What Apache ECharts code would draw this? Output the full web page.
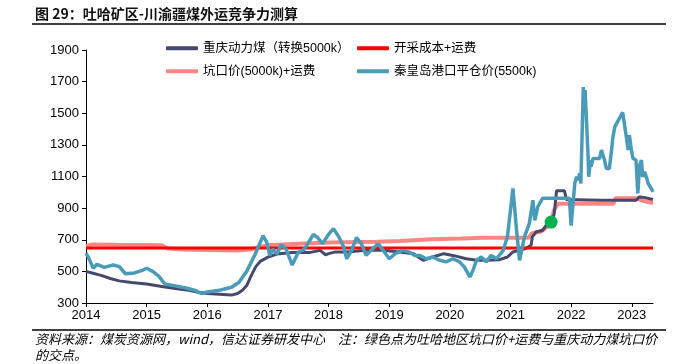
<!DOCTYPE html>
<html>
<head>
<meta charset="utf-8">
<script src="https://cdn.jsdelivr.net/npm/echarts@6/dist/echarts.min.js"></script>
<style>
  html, body { margin: 0; padding: 0; background: #fff; }
  #chart { width: 688px; height: 364px; }
</style>
</head>
<body>
<div id="chart"></div>
<script>
var yearTicks = [2014, 2015, 2016, 2017, 2018, 2019, 2020, 2021, 2022, 2023];

// 重庆动力煤（转换5000k）
var cqCoal = [[2014.0,500],[2014.1,490],[2014.25,475],[2014.4,455],[2014.55,440],[2014.75,430],[2015.0,420],[2015.25,405],[2015.5,390],[2015.7,380],[2015.85,368],[2016.0,360],[2016.2,355],[2016.4,350],[2016.5,360],[2016.58,380],[2016.65,410],[2016.72,470],[2016.8,530],[2016.88,565],[2017.0,590],[2017.15,610],[2017.4,620],[2017.7,620],[2017.86,633],[2017.95,605],[2018.0,612],[2018.1,622],[2018.3,622],[2018.62,633],[2018.9,633],[2019.17,622],[2019.4,612],[2019.56,570],[2019.72,591],[2019.9,612],[2020.05,601],[2020.27,580],[2020.45,570],[2020.6,570],[2020.82,574],[2020.95,591],[2021.04,623],[2021.15,634],[2021.25,644],[2021.34,665],[2021.36,718],[2021.42,749],[2021.53,760],[2021.59,792],[2021.67,815],[2021.72,860],[2021.76,1010],[2021.89,1010],[2021.92,955],[2022.5,950],[2023.07,950],[2023.12,970],[2023.2,968],[2023.35,955]];

// 开采成本+运费
var costFreight = [[2014.0,648],[2023.35,648]];

// 坑口价(5000k)+运费
var pitFreight = [[2014.0,660],[2014.1,670],[2014.5,668],[2015.0,667],[2015.25,665],[2015.35,645],[2015.6,638],[2016.0,635],[2016.5,632],[2016.75,640],[2016.85,655],[2017.0,665],[2017.5,675],[2018.0,683],[2018.8,688],[2019.17,692],[2019.7,703],[2020.2,708],[2020.55,712],[2021.3,712],[2021.35,740],[2021.5,752],[2021.6,780],[2021.67,815],[2021.72,890],[2021.78,928],[2022.7,928],[2022.73,962],[2023.07,962],[2023.2,945],[2023.35,932]];

// 秦皇岛港口平仓价(5500k)
var qhdPort = [[2014.0,615],[2014.05,580],[2014.12,520],[2014.18,545],[2014.3,525],[2014.45,540],[2014.55,530],[2014.65,485],[2014.8,490],[2014.95,510],[2015.0,520],[2015.1,500],[2015.2,470],[2015.3,420],[2015.45,410],[2015.65,395],[2015.8,380],[2015.9,360],[2016.0,370],[2016.2,380],[2016.3,390],[2016.4,400],[2016.52,430],[2016.65,500],[2016.78,600],[2016.92,725],[2016.98,685],[2017.03,600],[2017.08,640],[2017.15,610],[2017.22,670],[2017.3,640],[2017.4,540],[2017.5,620],[2017.6,640],[2017.75,734],[2017.82,713],[2017.9,675],[2018.0,734],[2018.08,770],[2018.17,718],[2018.25,654],[2018.3,580],[2018.38,633],[2018.46,713],[2018.54,675],[2018.62,601],[2018.7,633],[2018.82,675],[2018.9,633],[2019.0,580],[2019.1,612],[2019.22,633],[2019.33,622],[2019.42,601],[2019.5,601],[2019.61,580],[2019.72,591],[2019.83,570],[2019.94,560],[2020.05,580],[2020.16,560],[2020.24,527],[2020.33,465],[2020.38,506],[2020.44,570],[2020.52,591],[2020.6,560],[2020.68,601],[2020.77,580],[2020.88,633],[2020.95,720],[2021.04,1025],[2021.1,760],[2021.15,570],[2021.23,718],[2021.31,802],[2021.37,950],[2021.4,823],[2021.45,908],[2021.53,963],[2021.97,963],[2022.0,790],[2022.06,1056],[2022.09,1098],[2022.11,1077],[2022.14,1119],[2022.16,1056],[2022.18,1351],[2022.2,1665],[2022.21,1604],[2022.23,1647],[2022.25,1478],[2022.28,1225],[2022.29,1098],[2022.32,1204],[2022.33,1162],[2022.36,1214],[2022.47,1214],[2022.5,1267],[2022.52,1256],[2022.55,1204],[2022.58,1151],[2022.63,1151],[2022.66,1246],[2022.69,1351],[2022.72,1414],[2022.85,1505],[2022.88,1515],[2022.91,1351],[2022.94,1267],[2022.96,1362],[2022.99,1277],[2023.02,1214],[2023.05,1225],[2023.07,1204],[2023.1,993],[2023.13,1172],[2023.16,1204],[2023.18,1098],[2023.21,1130],[2023.24,1098],[2023.27,1056],[2023.32,1024],[2023.35,1003]];

// 交点
var crossPoint = [[2021.67, 812]];

var names = ['重庆动力煤（转换5000k）', '开采成本+运费', '坑口价(5000k)+运费', '秦皇岛港口平仓价(5500k)'];
var colors = ['#454a6c', '#ff0000', '#ff8585', '#4a9bb8'];

var myChart = echarts.init(document.getElementById('chart'));

function legendAt(name, left, top) {
    return {
        data: [name],
        left: left,
        top: top,
        padding: 0,
        icon: 'roundRect',
        itemWidth: 32,
        itemHeight: 4,
        textStyle: { fontSize: 12.5, color: '#000', fontFamily: 'Liberation Sans, Noto Sans CJK SC' },
        selectedMode: false
    };
}

var option = {
    animation: false,
    color: colors,
    grid: { left: 86, right: 35, top: 50, bottom: 61 },
    legend: [
        legendAt(names[0], 166, 42),
        legendAt(names[1], 357, 42),
        legendAt(names[2], 166, 65),
        legendAt(names[3], 357, 65)
    ],
    xAxis: {
        type: 'value',
        min: 2014,
        max: 2023.35,
        interval: 1,
        splitLine: { show: false },
        axisLine: { lineStyle: { color: '#000', width: 1 } },
        axisTick: { length: 4, lineStyle: { color: '#000' }, customValues: yearTicks },
        axisLabel: {
            customValues: yearTicks,
            formatter: function (v) { return String(v); },
            color: '#000', fontSize: 13, fontFamily: 'Liberation Sans', margin: 6
        }
    },
    yAxis: {
        type: 'value',
        min: 300,
        max: 1900,
        interval: 200,
        splitLine: { show: false },
        axisLine: { show: true, lineStyle: { color: '#000', width: 1 } },
        axisTick: { show: true, length: 4, lineStyle: { color: '#000' } },
        axisLabel: {
            formatter: function (v) { return String(v); },
            color: '#000', fontSize: 13, fontFamily: 'Liberation Sans', margin: 7
        }
    },
    series: [
        {
            name: names[2], type: 'line', data: pitFreight, showSymbol: false, z: 2,
            lineStyle: { width: 4, color: colors[2] }, itemStyle: { color: colors[2] }
        },
        {
            name: names[0], type: 'line', data: cqCoal, showSymbol: false, z: 3,
            lineStyle: { width: 3, color: colors[0] }, itemStyle: { color: colors[0] }
        },
        {
            name: names[1], type: 'line', data: costFreight, showSymbol: false, z: 4,
            lineStyle: { width: 3, color: colors[1] }, itemStyle: { color: colors[1] }
        },
        {
            name: names[3], type: 'line', data: qhdPort, showSymbol: false, z: 5,
            lineStyle: { width: 3.5, color: colors[3] }, itemStyle: { color: colors[3] }
        },
        {
            name: '交点', type: 'scatter', data: crossPoint, z: 6,
            symbolSize: 13, itemStyle: { color: '#00b050', opacity: 1 }
        }
    ],
    graphic: [
        {
            type: 'text', left: 35, top: 7,
            style: {
                text: '图 29：吐哈矿区-川渝疆煤外运竞争力测算',
                font: 'bold 14px "Noto Sans CJK SC"', fill: '#111'
            }
        },
        { type: 'line', shape: { x1: 32, y1: 24, x2: 666, y2: 24 }, style: { stroke: '#000', lineWidth: 1.5 } },
        { type: 'line', shape: { x1: 32, y1: 330, x2: 666, y2: 330 }, style: { stroke: '#000', lineWidth: 1.5 } },
        {
            type: 'text', left: 35, top: 333,
            style: {
                text: '资料来源：煤炭资源网，wind，信达证券研发中心　注：绿色点为吐哈地区坑口价+运费与重庆动力煤坑口价',
                font: 'italic 13px "Noto Sans CJK SC"', fill: '#000'
            }
        },
        {
            type: 'text', left: 35, top: 349,
            style: { text: '的交点。', font: 'italic 13px "Noto Sans CJK SC"', fill: '#000' }
        }
    ]
};

myChart.setOption(option);
window.addEventListener('resize', function () { myChart.resize(); });
</script>
</body>
</html>
